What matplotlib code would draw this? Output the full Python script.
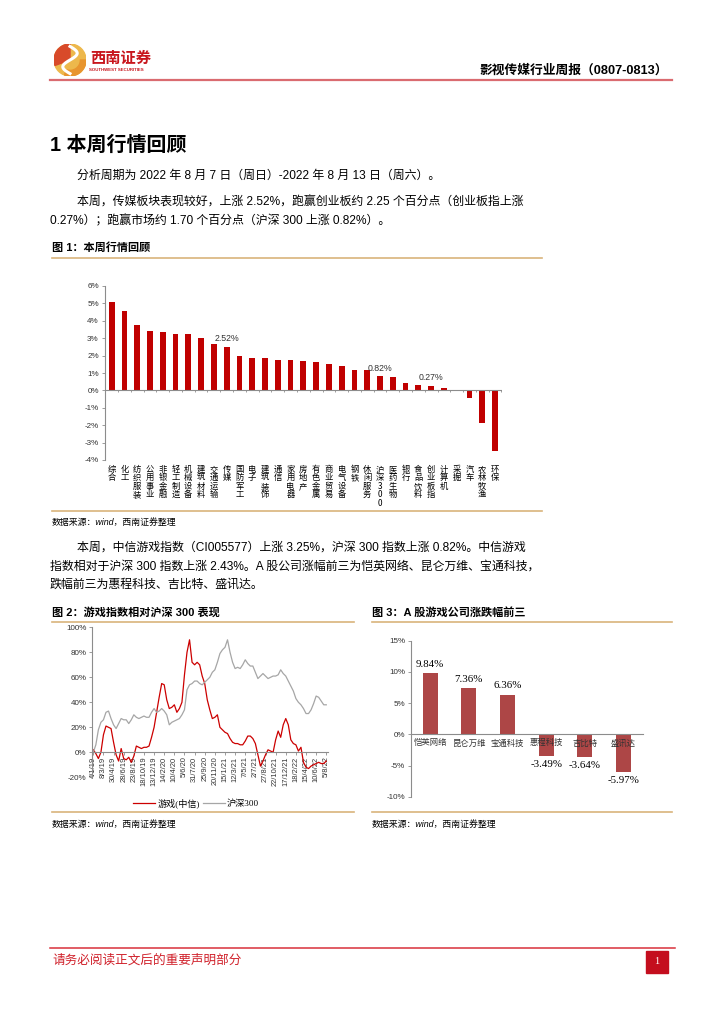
import numpy as np
import matplotlib
matplotlib.use('Agg')
import matplotlib.pyplot as plt
from matplotlib.lines import Line2D
from matplotlib.patches import Rectangle, Wedge, Circle

W, H = 724, 1024
MIX = ['Liberation Sans', 'Noto Sans CJK SC']
CJK = ['Noto Sans CJK SC', 'DejaVu Sans']
SERIF = ['Liberation Serif', 'Noto Sans CJK SC']

plt.rcParams['font.family'] = MIX
plt.rcParams['axes.unicode_minus'] = False

# Fig 1: industry weekly returns (%)
ind_names = ['综合', '化工', '纺织服装', '公用事业', '非银金融', '轻工制造', '机械设备',
             '建筑材料', '交通运输', '传媒', '国防军工', '电子', '建筑装饰', '通信',
             '家用电器', '房地产', '有色金属', '商业贸易', '电气设备', '钢铁', '休闲服务',
             '沪深300', '医药生物', '银行', '食品饮料', '创业板指', '计算机', '采掘',
             '汽车', '农林牧渔', '环保']
ind_vals = [5.07, 4.59, 3.77, 3.44, 3.35, 3.27, 3.25, 3.00, 2.64, 2.52, 1.99, 1.87,
            1.85, 1.76, 1.75, 1.70, 1.66, 1.49, 1.41, 1.19, 1.15, 0.82, 0.78, 0.42,
            0.32, 0.27, 0.11, 0.0, -0.44, -1.90, -3.50]
ind_marked = ['传媒', '沪深300', '创业板指']

# Fig 2: cumulative performance (%), game index vs CSI 300
date_labels = ['4/1/19', '8/3/19', '30/4/19', '28/6/19', '23/8/19', '18/10/19',
               '13/12/19', '14/2/20', '10/4/20', '5/6/20', '31/7/20', '25/9/20',
               '20/11/20', '15/1/21', '12/3/21', '7/5/21', '2/7/21', '27/8/21',
               '22/10/21', '17/12/21', '18/2/22', '15/4/22', '10/6/22', '5/8/22']
game_idx = [2, -1, -5, 0, 14, 21, 20, 19, 8, -2,
            -7, 3, -5, -6, -4, -8, -3, 5, 4, 3,
            4, 4, 5, 12, 20, 32, 44, 55, 54, 42,
            35, 36, 38, 32, 35, 40, 62, 80, 90, 72,
            70, 72, 70, 61, 55, 42, 34, 27, 28, 30,
            20, 18, 16, 15, 11, 8, 7, 7, 6, 6,
            9, 13, 13, 11, 7, -2, -11, -7, -2, 2,
            1, 0, 10, 17, 12, 22, 27, 22, 10, 7,
            6, 1, 4, -8, -12, -13, -11, -10, -9, -8,
            -9, -9, -7]
hs300 = [0, 6, 18, 24, 26, 32, 33, 27, 22, 19,
         23, 27, 26, 26, 23, 26, 30, 28, 27, 28,
         29, 28, 28, 32, 35, 32, 33, 35, 33, 30,
         22, 24, 25, 26, 27, 30, 34, 50, 54, 55,
         57, 57, 55, 54, 56, 58, 60, 64, 66, 72,
         79, 82, 84, 90, 80, 72, 67, 68, 67, 70,
         74, 71, 69, 69, 64, 59, 61, 63, 61, 59,
         60, 61, 61, 62, 66, 63, 61, 57, 53, 49,
         43, 40, 38, 35, 31, 31, 34, 39, 45, 44,
         41, 38, 38]
series_names = ['游戏(中信)', '沪深300']

# Fig 3: top gainers / losers (%)
co_names = ['恺英网络', '昆仑万维', '宝通科技', '惠程科技', '吉比特', '盛讯达']
co_vals = [9.84, 7.36, 6.36, -3.49, -3.64, -5.97]

fig = plt.figure(figsize=(7.24, 10.24), dpi=100)


def fx(x):
    return x / W


def fy(y):
    return 1 - y / H


def hline(y, x0, x1, color, lw):
    fig.add_artist(Line2D([fx(x0), fx(x1)], [fy(y), fy(y)],
                          transform=fig.transFigure, color=color, lw=lw))


def txt(x, y, s, size, **kw):
    fig.text(fx(x), fy(y), s, fontsize=size, va='center', **kw)


# ---- header ----
logo = fig.add_axes([fx(54), fy(76), 32 / W, 32 / H])
logo.set_xlim(-1, 1)
logo.set_ylim(-1, 1)
logo.axis('off')
logo.add_patch(Circle((0, 0), 1, color='#EDB84C'))
logo.add_patch(Wedge((0, 0), 1, 90, 200, color='#D84A2A'))
logo.add_patch(Wedge((0, 0), 1, 250, 360, width=0.35, color='#E8952F'))
t = np.linspace(-1, 1, 50)
logo.plot(0.45 * np.sin(t * np.pi), t * 0.85, color='white', lw=2.2)
txt(90, 58, '西南证券', 11, color='#C8161D', weight='bold', family=CJK)
txt(89, 70, 'SOUTHWEST SECURITIES', 3.2, color='#C8161D', weight='bold')
txt(668, 71, '影视传媒行业周报（0807-0813）', 9.2, ha='right', weight='bold')
hline(80, 50, 672, '#DA6B70', 1.6)

# ---- body text ----
GOLD = '#D9B47B'
BODY = 8.6
txt(50, 145, '1 本周行情回顾', 14.4, weight='bold')
txt(77, 176, '分析周期为 2022 年 8 月 7 日（周日）-2022 年 8 月 13 日（周六）。', BODY)
txt(77, 203, '本周，传媒板块表现较好，上涨 2.52%，跑赢创业板约 2.25 个百分点（创业板指上涨', BODY)
txt(50, 221, '0.27%）；跑赢市场约 1.70 个百分点（沪深 300 上涨 0.82%）。', BODY)
txt(52, 248, '图 1：本周行情回顾', 8.0, weight='bold')
hline(258, 52, 542, GOLD, 1.2)
hline(511, 52, 542, GOLD, 1.2)
txt(52, 522, '数据来源：wind，西南证券整理', 6.4, style='italic')
txt(77, 548, '本周，中信游戏指数（CI005577）上涨 3.25%，沪深 300 指数上涨 0.82%。中信游戏', BODY)
txt(50, 567, '指数相对于沪深 300 指数上涨 2.43%。A 股公司涨幅前三为恺英网络、昆仑万维、宝通科技，', BODY)
txt(50, 585, '跌幅前三为惠程科技、吉比特、盛讯达。', BODY)
txt(52, 612, '图 2：游戏指数相对沪深 300 表现', 8.0, weight='bold')
txt(372, 612, '图 3：A 股游戏公司涨跌幅前三', 8.0, weight='bold')
hline(622, 52, 354, GOLD, 1.2)
hline(622, 372, 672, GOLD, 1.2)
hline(812, 52, 354, GOLD, 1.2)
hline(812, 372, 672, GOLD, 1.2)
txt(52, 824, '数据来源：wind，西南证券整理', 6.4, style='italic')
txt(372, 824, '数据来源：wind，西南证券整理', 6.4, style='italic')

# ---- footer ----
hline(948, 50, 675, '#D9303A', 1.1)
txt(52, 960, '请务必阅读正文后的重要声明部分', 9.1, color='#D0202A', family=CJK)
fig.add_artist(Rectangle((fx(646), fy(973)), 22 / W, 22 / H, transform=fig.transFigure,
                         color='#C40E1E'))
txt(657, 962, '1', 7.5, ha='center', color='white', family=SERIF)

AX_GRAY = '#8C8C8C'

# ---- fig 1: industry bars ----
ax1 = fig.add_axes([fx(105), fy(460), 396.7 / W, 174 / H])
xi = np.arange(len(ind_vals))
ax1.bar(xi, ind_vals, width=0.45, color='#C00000')
ax1.set_xlim(-0.52, len(ind_vals) - 0.48)
ax1.set_ylim(-4, 6)
ax1.axhline(0, color=AX_GRAY, lw=0.8)
ax1.vlines(np.arange(len(ind_vals)) + 0.5, -0.1, 0, color=AX_GRAY, lw=0.6)
for s in ['top', 'right', 'bottom']:
    ax1.spines[s].set_visible(False)
ax1.spines['left'].set_color(AX_GRAY)
ax1.spines['left'].set_linewidth(0.8)
yt = np.arange(-4, 7, 1)
ax1.set_yticks(yt)
ax1.set_yticklabels([f'{v}%' for v in yt], fontsize=5.8, color='#333333')
ax1.tick_params(axis='y', length=2.5, width=0.6, color=AX_GRAY, pad=2)
ax1.set_xticks(xi)
ax1.set_xticklabels(['\n'.join(n) for n in ind_names], fontsize=6, family=CJK,
                    va='top', linespacing=0.92)
ax1.tick_params(axis='x', length=0, pad=3.5)
for name in ind_marked:
    i = ind_names.index(name)
    ax1.annotate(f'{ind_vals[i]:.2f}%', (i, ind_vals[i]), xytext=(0, 2.5),
                 textcoords='offset points', ha='center', va='bottom', fontsize=6.3,
                 color='#333333')

# ---- fig 2: line chart ----
ax2 = fig.add_axes([fx(92.3), fy(777.3), 236 / W, 150 / H])
xk = np.arange(len(game_idx))
ax2.plot(xk, game_idx, color='#CC0000', lw=0.9, label=series_names[0])
ax2.plot(xk, hs300, color='#A6A6A6', lw=0.9, label=series_names[1])
ax2.set_xlim(-0.4, len(game_idx) - 0.2)
ax2.set_ylim(-20, 100)
for s in ['top', 'right']:
    ax2.spines[s].set_visible(False)
ax2.spines['bottom'].set_position(('data', 0))
for s in ['left', 'bottom']:
    ax2.spines[s].set_color(AX_GRAY)
    ax2.spines[s].set_linewidth(0.8)
yt2 = np.arange(-20, 101, 20)
ax2.set_yticks(yt2)
ax2.set_yticklabels([f'{v}%' for v in yt2], fontsize=5.8, color='#333333')
ax2.tick_params(axis='y', length=2, width=0.6, color=AX_GRAY, pad=2)
ax2.set_xticks(np.arange(0, 4 * len(date_labels), 4))
ax2.set_xticklabels(date_labels, rotation=90, fontsize=5.4, color='#333333')
ax2.tick_params(axis='x', length=2, width=0.6, color=AX_GRAY, pad=1)
ax2.legend(loc='center', bbox_to_anchor=(fx(196), fy(803)),
           bbox_transform=fig.transFigure, ncol=2, frameon=False,
           handlelength=2.4, handletextpad=0.2, columnspacing=0.3,
           prop={'family': SERIF, 'size': 6.6})

# ---- fig 3: company bars ----
ax3 = fig.add_axes([fx(410.7), fy(796.7), 232.3 / W, 156 / H])
xc = np.arange(len(co_vals))
ax3.bar(xc, co_vals, width=0.39, color='#AD4646')
ax3.set_xlim(-0.5, len(co_vals) - 0.5)
ax3.set_ylim(-10, 15)
for s in ['top', 'right']:
    ax3.spines[s].set_visible(False)
ax3.spines['bottom'].set_position(('data', 0))
for s in ['left', 'bottom']:
    ax3.spines[s].set_color(AX_GRAY)
    ax3.spines[s].set_linewidth(0.8)
yt3 = np.arange(-10, 16, 5)
ax3.set_yticks(yt3)
ax3.set_yticklabels([f'{v}%' for v in yt3], fontsize=5.8, color='#333333')
ax3.tick_params(axis='y', length=2, width=0.6, color=AX_GRAY, pad=2)
ax3.set_xticks(xc)
ax3.set_xticklabels(co_names, fontsize=6.0, family=CJK, color='#333333')
ax3.tick_params(axis='x', length=0, pad=3)
for i, v in enumerate(co_vals):
    ax3.annotate(f'{v:.2f}%', (i, v), xytext=(0, 3 if v > 0 else -3),
                 textcoords='offset points', ha='center',
                 va='bottom' if v > 0 else 'top', fontsize=7.8, family=SERIF)

fig.savefig('out.png', dpi=100)
